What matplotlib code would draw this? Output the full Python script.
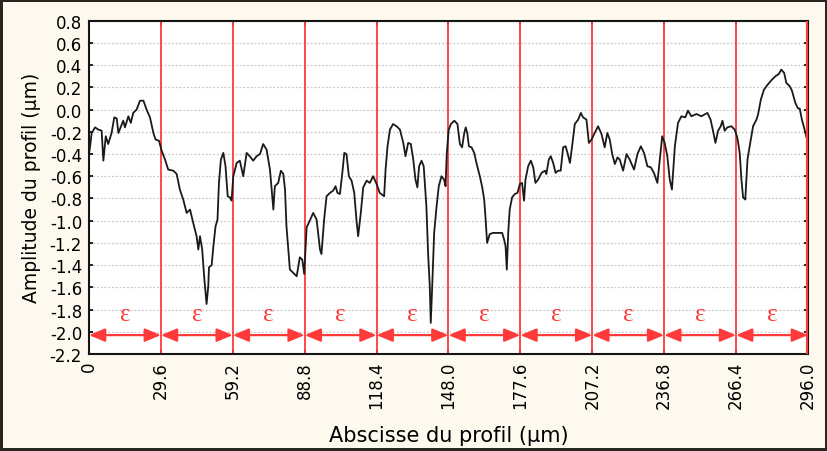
import matplotlib
matplotlib.use("Agg")
import matplotlib.pyplot as plt

# profile (x in µm, amplitude in µm)
profile_x = [0.0, 0.4, 1.1, 2.5, 3.8, 5.2, 5.9, 6.9, 7.9, 9.3, 10.4, 11.4, 12.1, 13.2, 14.1, 14.8,
             16.2, 17.2, 18.2, 19.6, 21.0, 22.4, 23.7, 25.1, 26.5, 27.4, 28.8, 29.9, 31.3, 32.6,
             34.7, 36.1, 37.4, 38.8, 40.2, 41.6, 42.9, 44.3, 45.0, 45.7, 46.6, 47.5, 48.4,
             49.1, 49.4, 50.5, 51.2, 52.1, 52.9, 53.5, 54.3, 55.3, 56.2, 57.1, 58.0, 58.7, 59.4,
             60.8, 62.1, 63.5, 64.9, 66.2, 67.6, 69.0, 70.4, 71.7, 73.1, 74.5, 75.9, 76.5, 77.9,
             79.0, 80.0, 80.7, 81.3, 82.7, 84.1, 85.5, 86.8, 87.8, 88.6, 89.6, 90.9, 92.3, 93.7,
             95.1, 95.7, 96.8, 97.8, 99.2, 100.5, 101.5, 102.3, 103.3, 104.3, 105.1, 106.0, 107.0,
             108.1, 109.2, 110.1, 110.8, 111.9, 112.9, 114.3, 115.6, 117.0, 118.4, 119.7, 121.5,
             122.1, 122.9, 123.9, 125.2, 126.6, 128.0, 129.4, 130.3, 131.4, 132.5, 133.5, 134.4,
             135.2, 135.9, 136.9, 137.8, 138.9, 139.6, 140.3, 140.7, 141.3, 142.1, 143.1, 144.0,
             145.1, 146.2, 146.8, 147.3, 148.1, 149.0, 150.4, 151.7, 152.7, 153.6, 154.5, 155.1,
             155.8, 156.4, 157.5, 158.6, 159.5, 160.9, 161.9, 162.7, 163.3, 163.9, 165.0, 166.4,
             168.5, 170.1, 170.9, 171.5, 172.0, 172.6, 173.2, 174.2, 175.3, 176.4, 177.4, 178.3,
             179.1, 179.7, 180.8, 181.9, 182.9, 183.8, 184.9, 186.3, 187.7, 188.3, 189.3, 190.1,
             191.1, 192.1, 193.1, 194.2, 195.2, 196.2, 197.0, 198.0, 198.9, 200.0, 201.4, 202.5,
             203.4, 204.8, 205.8, 206.9, 208.2, 209.6, 211.0, 212.3, 213.4, 214.4, 215.4, 216.5,
             217.6, 218.5, 219.9, 221.3, 222.6, 224.4, 225.8, 227.2, 228.5, 229.9, 231.3, 232.6,
             234.0, 235.0, 236.0, 237.0, 238.1, 239.1, 240.0, 241.2, 242.5, 243.9, 245.5, 246.6,
             248.0, 250.1, 252.1, 254.6, 255.9, 256.9, 257.9, 259.0, 260.1, 260.8, 261.7, 262.8,
             264.5, 265.8, 266.9, 267.9, 268.6, 269.3, 270.2, 271.1, 272.0, 273.4, 274.8, 275.5,
             276.6, 277.9, 279.6, 281.2, 282.6, 284.0, 285.0, 286.2, 287.1, 288.5, 289.4, 290.8,
             291.9, 292.6, 293.5, 294.6, 295.4, 296.0]
profile_y = [-0.40, -0.34, -0.21, -0.16, -0.18, -0.19, -0.46, -0.24, -0.31, -0.21, -0.07, -0.08,
             -0.21, -0.15, -0.10, -0.16, -0.06, -0.12, -0.03, 0.00, 0.08, 0.08, 0.00, -0.07, -0.21,
             -0.27, -0.28, -0.37, -0.45, -0.54, -0.55, -0.58, -0.72, -0.81, -0.93, -0.90, -1.02,
             -1.14, -1.26, -1.14, -1.26, -1.53, -1.75,
             -1.59, -1.42, -1.40, -1.23, -1.05, -0.99, -0.66, -0.45, -0.39, -0.51, -0.78, -0.79,
             -0.82, -0.60, -0.48, -0.46, -0.60, -0.39, -0.42, -0.46, -0.42, -0.40, -0.31, -0.36,
             -0.54, -0.90, -0.69, -0.66, -0.55, -0.58, -0.72, -1.05, -1.44, -1.47, -1.50, -1.33,
             -1.35, -1.48, -1.06, -1.00, -0.93, -0.99, -1.26, -1.30, -0.99, -0.78, -0.75, -0.73,
             -0.69, -0.75, -0.76, -0.57, -0.39, -0.40, -0.60, -0.64, -0.75, -0.99, -1.14, -0.93,
             -0.70, -0.64, -0.66, -0.60, -0.67, -0.75, -0.78, -0.54, -0.33, -0.18, -0.13, -0.15,
             -0.18, -0.30, -0.42, -0.30, -0.31, -0.45, -0.63, -0.70, -0.51, -0.46, -0.51, -0.87,
             -1.29, -1.59, -1.92, -1.59, -1.11, -0.87, -0.69, -0.60, -0.63, -0.69, -0.39, -0.18,
             -0.13, -0.10, -0.13, -0.31, -0.34, -0.21, -0.16, -0.22, -0.33, -0.34, -0.39, -0.48,
             -0.60, -0.70, -0.81, -0.99, -1.20, -1.12, -1.11, -1.11, -1.11, -1.17, -1.23, -1.44,
             -1.11, -0.90, -0.79, -0.76, -0.75, -0.67, -0.66, -0.82, -0.63, -0.51, -0.46, -0.52,
             -0.66, -0.63, -0.57, -0.55, -0.58, -0.45, -0.42, -0.48, -0.57, -0.55, -0.55, -0.34,
             -0.33, -0.39, -0.48, -0.33, -0.13, -0.09, -0.03, -0.07, -0.09, -0.30, -0.27, -0.21,
             -0.15, -0.22, -0.34, -0.21, -0.27, -0.40, -0.49, -0.43, -0.45, -0.55, -0.40, -0.45,
             -0.54, -0.40, -0.33, -0.39, -0.51, -0.52, -0.57, -0.66, -0.45, -0.24, -0.30, -0.42,
             -0.63, -0.72, -0.33, -0.12, -0.06, -0.07, -0.01, -0.06, -0.04, -0.06, -0.03, -0.09,
             -0.19, -0.30, -0.19, -0.15, -0.10, -0.19, -0.16, -0.15, -0.18, -0.25, -0.39, -0.63,
             -0.79, -0.81, -0.45, -0.33, -0.15, -0.09, -0.04, 0.09, 0.18, 0.23, 0.27, 0.30, 0.32,
             0.36, 0.33, 0.24, 0.21, 0.17, 0.06, 0.01, 0.01, -0.09, -0.18, -0.25, -0.30]

# sampling-length boundaries
x_ticks = [0, 29.6, 59.2, 88.8, 118.4, 148.0, 177.6, 207.2, 236.8, 266.4, 296.0]
x_tick_labels = ["0", "29.6", "59.2", "88.8", "118.4", "148.0", "177.6", "207.2",
                 "236.8", "266.4", "296.0"]
y_ticks = [0.8, 0.6, 0.4, 0.2, 0.0, -0.2, -0.4, -0.6, -0.8, -1.0, -1.2, -1.4, -1.6, -1.8,
           -2.0, -2.2]
arrow_y = -2.03
eps_y = -1.84

red = "#ff3a3a"

fig = plt.figure(figsize=(8.28, 4.52), dpi=100)
fig.patch.set_facecolor("#fdf9ee")
fig.patch.set_edgecolor("#2a2520")
fig.patch.set_linewidth(3)
ax = fig.add_axes([0.1075, 0.2146, 0.8683, 0.7374])
ax.set_facecolor("white")

ax.set_xlim(0, 296)
ax.set_ylim(-2.2, 0.8)
ax.set_yticks(y_ticks)
ax.set_yticklabels([f"{v:.1f}" for v in y_ticks], fontsize=12)
ax.set_xticks(x_ticks)
ax.set_xticklabels(x_tick_labels, rotation=90, fontsize=12)
ax.tick_params(direction="in", length=3, width=1.2, right=True, top=True, pad=5)
ax.grid(axis="y", color="#c8c8c8", linestyle=(0, (1.5, 1.5)), linewidth=0.9)
ax.set_axisbelow(True)
for s in ax.spines.values():
    s.set_linewidth(1.5)
    s.set_color("#151515")

# boundaries, arrows and epsilon labels
for xb in x_ticks[1:-1]:
    ax.axvline(xb, color=red, lw=1.3, zorder=2)
ax.axvline(296.0, color=red, lw=3, zorder=4)

for a, b in zip(x_ticks[:-1], x_ticks[1:]):
    ax.annotate("", xy=(b, arrow_y), xytext=(a, arrow_y),
                arrowprops=dict(arrowstyle="<|-|>,head_length=0.6,head_width=0.25",
                                color=red, lw=1.6, mutation_scale=16,
                                shrinkA=0, shrinkB=0), zorder=3)
    ax.text((a + b) / 2, eps_y, "ε", color=red, fontsize=18,
            family="Liberation Serif", ha="center", va="center")

ax.plot(profile_x, profile_y, color="#1a1a1a", lw=1.3, zorder=3)

ax.set_xlabel("Abscisse du profil (µm)", fontsize=15, labelpad=12)
ax.set_ylabel("Amplitude du profil (µm)", fontsize=13.5, labelpad=6)

fig.savefig("out.png", dpi=100, facecolor=fig.get_facecolor(), edgecolor=fig.get_edgecolor())
